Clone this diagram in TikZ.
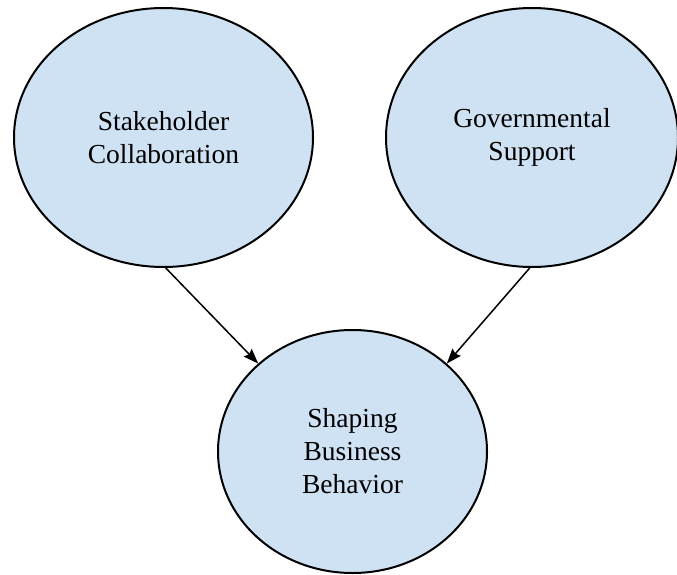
\documentclass[tikz,border=0pt]{standalone}
\usepackage{fontspec}
\setmainfont{Liberation Serif}
\usetikzlibrary{arrows.meta,shapes.geometric}
\definecolor{bubblefill}{HTML}{CFE2F3}
\begin{document}
\begin{tikzpicture}[x=1pt,y=-1pt,
  bubble/.style={ellipse,draw=black,line width=2pt,fill=bubblefill,
    inner sep=0pt,align=center,
    font=\fontsize{27.5}{33}\selectfont},
  link/.style={line width=1.5pt,-{Stealth[length=15pt,width=11pt,inset=2pt]}}]
  % canvas
  \useasboundingbox (0,0) rectangle (677,575);
  \begin{scope}
    \clip (0,0) rectangle (677,575);
    \node[bubble,minimum width=299pt,minimum height=259pt] (stake) at (163.5,137.5)
      {Stakeholder\\Collaboration};
    \node[bubble,minimum width=292pt,minimum height=259pt] (gov) at (532,137.5)
      {Governmental\\Support};
    \node[bubble,minimum width=269pt,minimum height=243pt] (shape) at (352.5,451.5)
      {Shaping\\Business\\Behavior};
  \end{scope}
  % influences
  \draw[link] (stake.-89) -- (shape.137);
  \draw[link] (gov.-91.5) -- (shape.43);
\end{tikzpicture}
\end{document}
